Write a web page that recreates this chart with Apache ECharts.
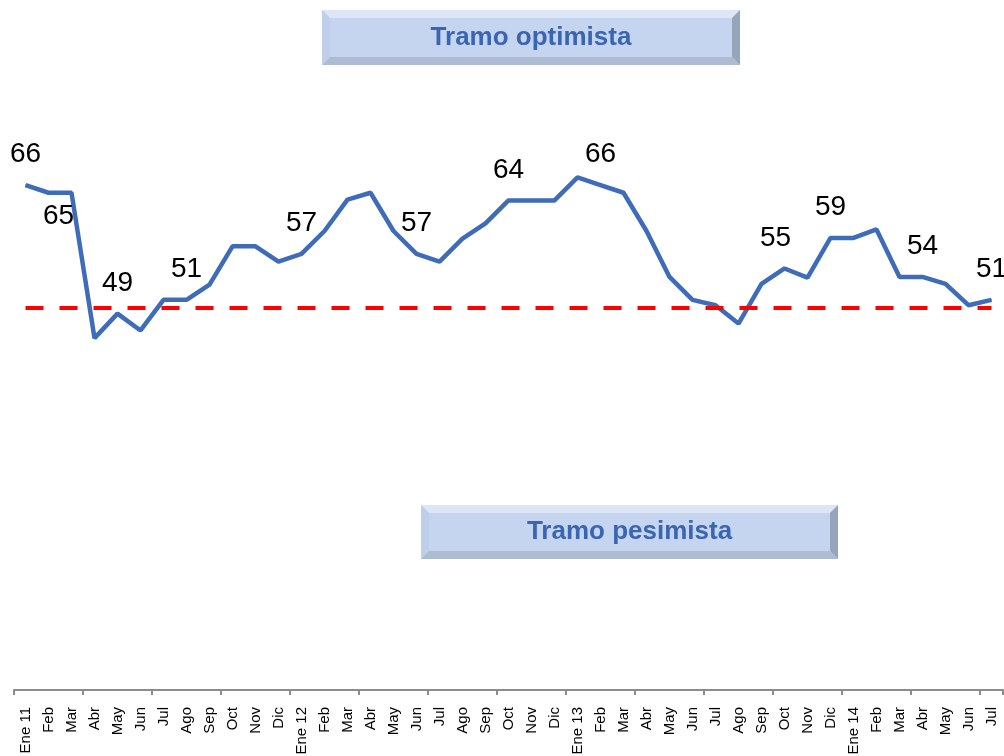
<!DOCTYPE html>
<html>
<head>
<meta charset="utf-8">
<script src="https://cdn.jsdelivr.net/npm/echarts@6/dist/echarts.min.js"></script>
<style>
  html, body { margin: 0; padding: 0; background: #fff; }
  #main { width: 1004px; height: 756px; }
</style>
</head>
<body>
<div id="main"></div>
<script>
// meses (eje x)
const months = [
  'Ene 11', 'Feb', 'Mar', 'Abr', 'May', 'Jun', 'Jul', 'Ago', 'Sep', 'Oct', 'Nov', 'Dic',
  'Ene 12', 'Feb', 'Mar', 'Abr', 'May', 'Jun', 'Jul', 'Ago', 'Sep', 'Oct', 'Nov', 'Dic',
  'Ene 13', 'Feb', 'Mar', 'Abr', 'May', 'Jun', 'Jul', 'Ago', 'Sep', 'Oct', 'Nov', 'Dic',
  'Ene 14', 'Feb', 'Mar', 'Abr', 'May', 'Jun', 'Jul'
];
// valores del indice
const values = [
  66.0, 65.0, 65.0, 46.0, 49.2, 47.0, 51.0, 51.0, 53.0, 58.0, 58.0, 56.0,
  57.0, 60.0, 64.1, 65.0, 60.0, 57.0, 56.0, 59.0, 61.0, 64.0, 64.0, 64.0,
  67.0, 66.0, 65.0, 60.0, 54.0, 51.0, 50.3, 47.9, 53.1, 55.1, 53.9, 59.1,
  59.1, 60.2, 54.0, 54.0, 53.1, 50.3, 51.0
];
// puntos con etiqueta
const labeledIdx = [0, 1, 4, 7, 12, 17, 21, 25, 33, 35, 39, 42];
const threshold = 50;

const chart = echarts.init(document.getElementById('main'));

const seriesData = values.map((v, i) => {
  if (labeledIdx.indexOf(i) < 0) return v;
  const lbl = { show: true, position: 'top', distance: 16 };
  if (i === 1) { lbl.position = 'bottom'; lbl.distance = 9; lbl.offset = [10, 0]; }
  if (i === 33) { lbl.offset = [-9, 0]; }
  return { value: v, label: lbl };
});

function bevelBox(x, y, w, h, text) {
  const b = 8;
  return {
    type: 'group',
    children: [
      { type: 'rect', shape: { x: x, y: y, width: w, height: h }, style: { fill: '#C5D5EF' } },
      { type: 'polygon', shape: { points: [[x, y], [x + w, y], [x + w - b, y + b], [x + b, y + b]] }, style: { fill: '#DCE6F6' } },
      { type: 'polygon', shape: { points: [[x, y], [x + b, y + b], [x + b, y + h - b], [x, y + h]] }, style: { fill: '#BFCFEA' } },
      { type: 'polygon', shape: { points: [[x + w, y], [x + w, y + h], [x + w - b, y + h - b], [x + w - b, y + b]] }, style: { fill: '#97A5BC' } },
      { type: 'polygon', shape: { points: [[x, y + h], [x + b, y + h - b], [x + w - b, y + h - b], [x + w, y + h]] }, style: { fill: '#AEBCD3' } },
      {
        type: 'text', x: x + w / 2, y: y + h / 2,
        style: {
          text: text, fill: '#3A65B1', font: 'bold 26px "Liberation Sans", Arial, sans-serif',
          align: 'center', verticalAlign: 'middle'
        }
      }
    ]
  };
}

const option = {
  animation: false,
  grid: { left: 14, right: 1, top: 78, bottom: 66, outerBoundsMode: 'none', containLabel: false },
  xAxis: {
    type: 'category',
    data: months,
    boundaryGap: true,
    axisLine: { show: true, lineStyle: { color: '#8C8C8C', width: 2 } },
    axisTick: { show: true, interval: 2, length: 5, lineStyle: { color: '#8C8C8C', width: 2 } },
    axisLabel: {
      interval: 0, rotate: 90, margin: 17,
      color: '#000', fontSize: 15, fontFamily: '"Liberation Sans", Arial, sans-serif'
    }
  },
  yAxis: {
    type: 'value', min: 0, max: 80, show: false,
    splitLine: { show: false }
  },
  series: [{
    type: 'line',
    data: seriesData,
    showSymbol: true,
    symbol: 'circle',
    symbolSize: 1,
    itemStyle: { color: '#3F6CB8' },
    lineStyle: { color: '#3F6CB8', width: 4.5 },
    label: {
      color: '#000', fontSize: 28,
      fontFamily: '"Liberation Sans Narrow", "Arial Narrow", "Liberation Sans", sans-serif',
      formatter: p => Math.round(p.value)
    },
    markLine: {
      silent: true,
      symbol: 'none',
      label: { show: false },
      lineStyle: { color: '#FF0000', width: 4, type: [18, 16] },
      data: [[{ coord: [0, threshold] }, { coord: [months.length - 1, threshold] }]]
    }
  }],
  graphic: [
    bevelBox(322, 10, 418, 55, 'Tramo optimista'),
    bevelBox(421, 505, 417, 54, 'Tramo pesimista')
  ]
};

chart.setOption(option);
</script>
</body>
</html>
